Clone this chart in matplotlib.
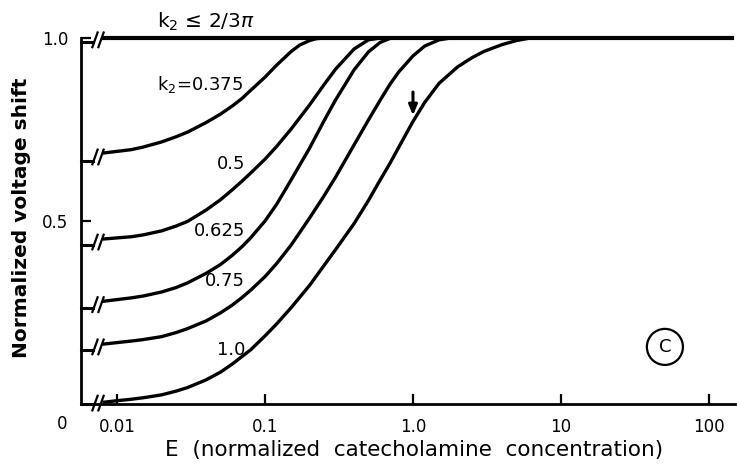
import matplotlib
matplotlib.use('Agg')
import matplotlib.pyplot as plt
import matplotlib.transforms as mtransforms

plt.rcParams['font.family'] = 'DejaVu Sans'

# curves: E (normalized conc.) and normalized voltage shift
labels = ['0.375', '0.5', '0.625', '0.75', '1.0']
start_vals = [0.664, 0.434, 0.262, 0.148, 0.0]   # value at E = 0 (left of the axis break)

e_a = [0.0082, 0.0125, 0.015, 0.02, 0.025, 0.03, 0.04, 0.05, 0.06, 0.07, 0.08, 0.1, 0.12, 0.15,
       0.172, 0.2, 0.221, 0.25]
v_a = [0.686, 0.695, 0.702, 0.716, 0.730, 0.743, 0.769, 0.792, 0.814, 0.835, 0.857, 0.893, 0.926, 0.963,
       0.981, 0.993, 0.998, 1.0]

e_b = [0.0082, 0.0125, 0.015, 0.02, 0.025, 0.03, 0.04, 0.05, 0.06, 0.07, 0.08, 0.1, 0.12, 0.15,
       0.2, 0.25, 0.3, 0.4, 0.5, 0.6]
v_b = [0.451, 0.457, 0.462, 0.473, 0.486, 0.499, 0.530, 0.558, 0.585, 0.609, 0.631, 0.669, 0.704, 0.751,
       0.817, 0.872, 0.915, 0.970, 0.995, 1.0]

e_c = [0.0082, 0.0125, 0.015, 0.02, 0.025, 0.03, 0.04, 0.05, 0.06, 0.07, 0.08, 0.1, 0.12, 0.15,
       0.2, 0.25, 0.3, 0.4, 0.5, 0.6, 0.7, 0.8]
v_c = [0.281, 0.290, 0.295, 0.306, 0.318, 0.331, 0.357, 0.381, 0.406, 0.430, 0.454, 0.500, 0.546, 0.612,
       0.699, 0.773, 0.831, 0.913, 0.962, 0.988, 0.999, 1.0]

e_d = [0.0082, 0.0125, 0.015, 0.02, 0.025, 0.03, 0.04, 0.05, 0.06, 0.07, 0.08, 0.1, 0.12, 0.15,
       0.2, 0.25, 0.3, 0.4, 0.5, 0.6, 0.7, 0.8, 1.0, 1.2, 1.5, 1.8]
v_d = [0.164, 0.172, 0.176, 0.184, 0.195, 0.206, 0.227, 0.249, 0.270, 0.291, 0.311, 0.348, 0.384, 0.434,
       0.508, 0.568, 0.620, 0.708, 0.776, 0.830, 0.874, 0.907, 0.951, 0.978, 0.995, 1.0]

e_e = [0.0082, 0.01, 0.0125, 0.015, 0.02, 0.025, 0.03, 0.04, 0.05, 0.06, 0.07, 0.08, 0.1, 0.12, 0.15,
       0.2, 0.25, 0.3, 0.4, 0.5, 0.6, 0.7, 0.8, 1.0, 1.2, 1.5, 2, 2.5, 3, 4, 5, 6, 6.5]
v_e = [0.005, 0.009, 0.013, 0.017, 0.025, 0.035, 0.045, 0.066, 0.087, 0.109, 0.130, 0.148, 0.186, 0.219,
       0.263, 0.324, 0.378, 0.422, 0.493, 0.556, 0.612, 0.658, 0.701, 0.772, 0.824, 0.876, 0.921, 0.946,
       0.963, 0.982, 0.993, 0.999, 1.0]

top_e = [0.0082, 143]
top_v = [1.0, 1.0]
top_start = 0.99

xticks = [0.01, 0.1, 1, 10, 100]
xticklabels = ['0.01', '0.1', '1.0', '10', '100']

# label anchors (E, value)
label_pos = [(0.0733, 0.656), (0.0733, 0.473), (0.0733, 0.336), (0.0733, 0.148)]

fig = plt.figure(figsize=(7.37, 4.67), dpi=100)
ax = fig.add_axes([0.1099, 0.1349, 0.8874, 0.8229])
ax.set_xscale('log')
ax.set_xlim(0.00571, 150)
ax.set_ylim(0, 1.05)

for s in ['top', 'right']:
    ax.spines[s].set_visible(False)
ax.spines['left'].set_bounds(0, 1)
ax.spines['left'].set_linewidth(2)
ax.spines['bottom'].set_linewidth(2)

ax.set_xticks(xticks)
ax.set_xticklabels(xticklabels)
ax.xaxis.set_minor_locator(matplotlib.ticker.NullLocator())
ax.set_yticks([0.5, 1.0])
ax.set_yticklabels(['0.5', '1.0'])
ax.tick_params(direction='in', length=7, width=1.6, labelsize=12)
ax.tick_params(axis='x', pad=10)
ax.tick_params(axis='y', pad=9)

blend = mtransforms.blended_transform_factory(ax.transAxes, ax.transData)

def broken(ax, v0, v1):
    # short piece at E = 0 then the // break
    ax.plot([0, 0.019], [v0, v0], color='k', lw=2.2, transform=blend, clip_on=False)
    ym = (v0 + v1) / 2
    for cx in [0.0214, 0.0306]:
        ax.plot([cx - 0.004, cx + 0.004], [ym - 0.02, ym + 0.02], color='k', lw=1.6,
                transform=blend, clip_on=False)

curves = [(e_a, v_a), (e_b, v_b), (e_c, v_c), (e_d, v_d), (e_e, v_e)]
for (ee, vv), v0 in zip(curves, start_vals):
    ax.plot(ee, vv, color='k', lw=2.4, clip_on=False, solid_joinstyle='round')
    broken(ax, v0, vv[0])

ax.plot(top_e, top_v, color='k', lw=3, clip_on=False)
broken(ax, top_start, 1.0)

ax.text(0.0186, 1.027, 'k$_2$ ≤ 2/3$\\pi$', fontsize=14.5, ha='left', va='baseline')
ax.text(0.0186, 0.858, 'k$_2$=0.375', fontsize=13, ha='left', va='baseline')
for lab, (x, y) in zip(labels[1:], label_pos):
    ax.text(x, y, lab, fontsize=13, ha='right', va='center')

ax.annotate('', xy=(1.0, 0.781), xytext=(1.0, 0.86),
            arrowprops=dict(arrowstyle='-|>,head_width=0.25,head_length=0.6', color='k', lw=2.2))

ax.text(50.4, 0.156, 'C', fontsize=13, ha='center', va='center',
        bbox=dict(boxstyle='circle,pad=0.5', fc='none', ec='k', lw=1.6))

fig.text(62 / 737, 1 - 424 / 467, '0', fontsize=12, ha='center', va='center')

ax.set_xlabel('E  (normalized  catecholamine  concentration)', fontsize=15.5, va='center')
ax.xaxis.set_label_coords((414 - 81) / 654, (404 - 450) / 384.3)
ax.set_ylabel('Normalized voltage shift', fontsize=14.5, fontweight='bold', va='center')
ax.yaxis.set_label_coords((22 - 81) / 654, (404 - 218) / 384.3)

fig.savefig('out.png', dpi=100)
